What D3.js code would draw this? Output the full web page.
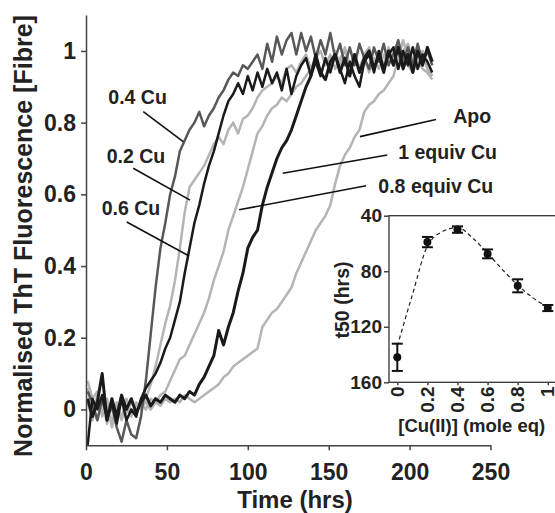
<!DOCTYPE html>
<html>
<head>
<meta charset="utf-8">
<script src="https://cdn.jsdelivr.net/npm/d3@7"></script>
<style>
  body { margin: 0; background: #fff; }
  svg { display: block; font-family: 'Liberation Sans', Arial, sans-serif; }
  .axis path, .axis line { stroke: #444; stroke-width: 1.5; }
  .axis text { fill: #222; font-weight: bold; }
</style>
</head>
<body>
<script>
const width = 555;
const height = 513;

// sampling times (hrs) shared by every trace
const hours = [1, 4, 7, 10, 13, 16, 19, 22, 25, 28, 31, 34, 37, 40, 43, 46, 49, 52, 55, 58,
  61, 64, 67, 70, 73, 76, 79, 82, 85, 88, 91, 94, 97, 100, 103, 106, 109, 112, 115, 118,
  121, 124, 127, 130, 133, 136, 139, 142, 145, 148, 151, 154, 157, 160, 163, 166, 169, 172,
  175, 178, 181, 184, 187, 190, 193, 196, 199, 202, 205, 208, 211, 214];

const apo = [0.06, 0.0, -0.03, 0.02, -0.04, 0.01, -0.02, 0.03, -0.01, 0.02, 0.0, 0.01, 0.02, 0.0,
  0.02, 0.01, 0.03, 0.02, 0.03, 0.02, 0.04, 0.03, 0.02, 0.03, 0.04, 0.05, 0.06, 0.07, 0.09, 0.1,
  0.12, 0.13, 0.14, 0.15, 0.16, 0.17, 0.23, 0.25, 0.27, 0.28, 0.3, 0.32, 0.34, 0.38, 0.41, 0.44,
  0.47, 0.5, 0.52, 0.54, 0.57, 0.63, 0.68, 0.71, 0.73, 0.76, 0.78, 0.83, 0.85, 0.86, 0.88, 0.89,
  0.91, 0.93, 0.98, 1.03, 0.98, 1.01, 0.97, 1.0, 0.95, 0.93];
const cu08 = [0.02, -0.03, 0.04, -0.01, 0.02, -0.05, 0.0, -0.02, 0.03, -0.01, 0.01, 0.02, 0.0, 0.03,
  0.02, 0.04, 0.05, 0.08, 0.11, 0.14, 0.15, 0.18, 0.21, 0.24, 0.27, 0.31, 0.36, 0.4, 0.44, 0.5,
  0.54, 0.58, 0.62, 0.67, 0.72, 0.77, 0.79, 0.82, 0.84, 0.85, 0.87, 0.86, 0.88, 0.9, 0.91, 0.93,
  0.95, 0.97, 0.93, 0.98, 0.95, 1.0, 0.96, 1.01, 0.96, 0.99, 0.95, 0.99, 1.01, 0.96, 1.0, 0.96,
  1.01, 0.97, 0.95, 1.0, 1.02, 0.97, 0.95, 0.99, 0.95, 0.93];
const cu02 = [0.08, 0.03, 0.05, -0.02, 0.03, -0.04, 0.02, -0.03, 0.01, -0.02, 0.02, 0.0, 0.03, 0.07,
  0.12, 0.18, 0.24, 0.29, 0.36, 0.45, 0.55, 0.62, 0.64, 0.66, 0.68, 0.71, 0.74, 0.76, 0.74, 0.78,
  0.8, 0.77, 0.81, 0.82, 0.84, 0.87, 0.89, 0.9, 0.91, 0.93, 0.91, 0.95, 0.96, 0.94, 0.97, 0.99,
  0.95, 0.98, 1.0, 0.96, 0.99, 0.95, 0.98, 1.0, 0.96, 0.99, 0.95, 0.98, 0.94, 0.98, 0.95, 0.99,
  0.96, 1.0, 0.95, 0.99, 0.96, 0.94, 0.98, 0.95, 0.94, 0.92];
const cu04 = [0.05, 0.02, -0.03, 0.03, -0.02, 0.01, -0.05, -0.09, -0.03, -0.07, -0.08, -0.02, 0.08,
  0.21, 0.34, 0.45, 0.52, 0.6, 0.65, 0.72, 0.75, 0.78, 0.8, 0.83, 0.79, 0.82, 0.84, 0.87, 0.89,
  0.92, 0.94, 0.93, 0.96, 0.95, 0.97, 0.99, 0.95, 1.02, 0.97, 1.04, 0.99, 1.03, 1.05, 0.99, 1.05,
  1.0, 1.04, 0.98, 1.03, 0.99, 1.05, 0.98, 1.02, 0.96, 1.01, 0.96, 1.02, 0.98, 0.95, 1.01, 0.97,
  1.02, 0.96, 0.99, 1.03, 0.97, 1.01, 0.96, 1.02, 0.97, 1.0, 0.96];
const cu06 = [-0.1, 0.03, 0.0, 0.04, -0.03, 0.02, -0.04, 0.03, -0.03, 0.0, -0.02, 0.03, 0.06, 0.08,
  0.1, 0.13, 0.17, 0.2, 0.25, 0.3, 0.38, 0.45, 0.52, 0.57, 0.63, 0.68, 0.72, 0.77, 0.82, 0.86,
  0.88, 0.91, 0.88, 0.93, 0.89, 0.94, 0.9, 0.95, 0.91, 0.94, 0.89, 0.95, 0.88, 0.93, 0.96, 0.98,
  0.93, 0.97, 0.93, 0.98, 0.94, 0.99, 0.95, 0.91, 0.97, 0.93, 0.9, 0.97, 0.99, 0.94, 1.0, 0.95,
  0.99, 1.01, 0.95, 1.0, 0.96, 1.01, 0.95, 0.99, 0.97, 0.94];
const cu10 = [0.03, -0.02, 0.02, 0.1, -0.03, 0.03, -0.02, 0.04, 0.0, 0.03, -0.01, 0.02, 0.04, 0.01,
  0.03, 0.02, 0.04, 0.03, 0.02, 0.04, 0.03, 0.05, 0.04, 0.07, 0.09, 0.12, 0.15, 0.22, 0.18, 0.23,
  0.27, 0.33, 0.38, 0.45, 0.48, 0.5, 0.57, 0.62, 0.66, 0.7, 0.73, 0.75, 0.78, 0.82, 0.86, 0.9,
  0.93, 0.99, 0.94, 0.92, 0.97, 0.99, 0.94, 0.98, 0.93, 0.99, 0.94, 0.98, 1.0, 0.95, 0.99, 0.94,
  1.0, 0.96, 1.01, 0.95, 0.99, 0.94, 1.0, 0.96, 1.01, 0.97];

const traces = [
  { name: 'Apo', values: apo, color: '#b4b4b4', width: 2.5 },
  { name: '0.8 equiv Cu', values: cu08, color: '#b4b4b4', width: 2.5 },
  { name: '0.2 Cu', values: cu02, color: '#b4b4b4', width: 2.5 },
  { name: '0.4 Cu', values: cu04, color: '#585858', width: 2.5 },
  { name: '0.6 Cu', values: cu06, color: '#1a1a1a', width: 2.5 },
  { name: '1 equiv Cu', values: cu10, color: '#1a1a1a', width: 3 },
];

// callout labels: text position and leader line, in data units (hrs, fluorescence)
const callouts = [
  { text: '0.4 Cu', at: [13.8, 0.852], from: [35.4, 0.831], to: [60.1, 0.747] },
  { text: '0.2 Cu', at: [12.8, 0.687], from: [29.2, 0.673], to: [64.3, 0.584] },
  { text: '0.6 Cu', at: [9.7, 0.543], from: [25.2, 0.523], to: [63.7, 0.428] },
  { text: 'Apo', at: [227, 0.798], from: [216.3, 0.809], to: [169.3, 0.761] },
  { text: '1 equiv Cu', at: [193, 0.698], from: [186.2, 0.71], to: [121.6, 0.659] },
  { text: '0.8 equiv Cu', at: [180.7, 0.605], from: [173.1, 0.624], to: [94.6, 0.557] },
];

const xTicks = [0, 50, 100, 150, 200, 250];
const yTicks = [0, 0.2, 0.4, 0.6, 0.8, 1];

// inset: t50 vs copper equivalents
const cuEq = [0, 0.2, 0.4, 0.6, 0.8, 1];
const t50 = [142, 59, 50, 67.5, 90.5, 106.5];
const t50Err = [9.8, 3.7, 2.3, 3.2, 4.7, 2.2];
const fitEq = [0, 0.1, 0.2, 0.3, 0.4, 0.5, 0.6, 0.7, 0.8, 0.9, 1];
const fitT50 = [134, 97, 62, 51.5, 48.5, 56, 67, 79, 90, 99, 106];
const insetXTicks = [0, 0.2, 0.4, 0.6, 0.8, 1];
const insetYTicks = [40, 80, 120, 160];

const svg = d3.select('body')
  .append('svg')
  .attr('width', width)
  .attr('height', height);

const x = d3.scaleLinear([0, 250], [86, 490.5]);
const y = d3.scaleLinear([-0.1, 1.1], [445.3, 15.1]);

svg.append('defs').append('clipPath')
  .attr('id', 'plot-clip')
  .append('rect')
  .attr('x', x(0))
  .attr('y', y(1.1))
  .attr('width', x(250) - x(0))
  .attr('height', y(-0.1) - y(1.1));

const line = d3.line()
  .x((d, i) => x(hours[i]))
  .y(d => y(d));

svg.append('g')
  .attr('clip-path', 'url(#plot-clip)')
  .selectAll('path')
  .data(traces)
  .enter()
  .append('path')
  .attr('d', d => line(d.values))
  .attr('fill', 'none')
  .attr('stroke', d => d.color)
  .attr('stroke-width', d => d.width)
  .attr('stroke-linejoin', 'round');

// axes
const xAxis = d3.axisBottom(x)
  .tickValues(xTicks)
  .tickFormat(d3.format('d'))
  .tickSizeInner(5)
  .tickSizeOuter(0)
  .tickPadding(13);

const yAxis = d3.axisLeft(y)
  .tickValues(yTicks)
  .tickFormat(d => (d === 0 || d === 1 ? String(d) : d.toFixed(1)))
  .tickSizeInner(5)
  .tickSizeOuter(0)
  .tickPadding(5);

svg.append('g')
  .attr('class', 'axis')
  .attr('transform', `translate(0, ${y(-0.1)})`)
  .call(xAxis)
  .selectAll('text')
  .style('font-size', '23px');

svg.append('g')
  .attr('class', 'axis')
  .attr('transform', `translate(${x(0)}, 0)`)
  .call(yAxis)
  .selectAll('text')
  .style('font-size', '23px');

svg.append('text')
  .attr('x', 295)
  .attr('y', 508)
  .attr('text-anchor', 'middle')
  .style('font-size', '24px')
  .style('font-weight', 'bold')
  .attr('fill', '#222')
  .text('Time (hrs)');

svg.append('text')
  .attr('transform', 'translate(31.5, 236) rotate(-90)')
  .attr('text-anchor', 'middle')
  .style('font-size', '25px')
  .style('font-weight', 'bold')
  .attr('fill', '#222')
  .text('Normalised ThT Fluorescence [Fibre]');

// callouts
const notes = svg.append('g');
notes.selectAll('line')
  .data(callouts)
  .enter()
  .append('line')
  .attr('x1', d => x(d.from[0]))
  .attr('y1', d => y(d.from[1]))
  .attr('x2', d => x(d.to[0]))
  .attr('y2', d => y(d.to[1]))
  .attr('stroke', '#111')
  .attr('stroke-width', 1.6);
notes.selectAll('text')
  .data(callouts)
  .enter()
  .append('text')
  .attr('x', d => x(d.at[0]))
  .attr('y', d => y(d.at[1]))
  .style('font-size', '19.5px')
  .style('font-weight', 'bold')
  .attr('fill', '#222')
  .text(d => d.text);

// inset
const xi = d3.scaleLinear([0, 1], [397.3, 547.8]);
const yi = d3.scaleLinear([40, 160], [215.7, 382.3]);
const insetLeft = 389;

const inset = svg.append('g');

inset.append('rect')
  .attr('x', insetLeft)
  .attr('y', yi(40))
  .attr('width', width - insetLeft + 5)
  .attr('height', yi(160) - yi(40))
  .attr('fill', '#fff')
  .attr('stroke', '#333')
  .attr('stroke-width', 1.3);

inset.append('g')
  .attr('class', 'axis')
  .attr('transform', `translate(${insetLeft}, 0)`)
  .call(d3.axisLeft(yi).tickValues(insetYTicks).tickSizeInner(5).tickSizeOuter(0).tickPadding(2))
  .call(g => g.select('.domain').remove())
  .selectAll('text')
  .style('font-size', '19px');

inset.append('g')
  .attr('class', 'axis')
  .attr('transform', `translate(0, ${yi(160)})`)
  .call(d3.axisBottom(xi).tickValues(insetXTicks).tickFormat(d => String(d)).tickSizeInner(3).tickSizeOuter(0))
  .call(g => g.select('.domain').remove())
  .selectAll('text')
  .attr('transform', 'rotate(-90)')
  .attr('text-anchor', 'end')
  .attr('x', -4)
  .attr('y', 0)
  .attr('dy', '0.3em')
  .style('font-size', '19px');

inset.append('path')
  .attr('d', d3.line().x((d, i) => xi(fitEq[i])).y(d => yi(d)).curve(d3.curveMonotoneX)(fitT50))
  .attr('fill', 'none')
  .attr('stroke', '#222')
  .attr('stroke-width', 1.2)
  .attr('stroke-dasharray', '4,3');

const bars = inset.selectAll('.err')
  .data(cuEq)
  .enter()
  .append('g')
  .attr('class', 'err');
bars.append('line')
  .attr('x1', d => xi(d))
  .attr('x2', d => xi(d))
  .attr('y1', (d, i) => yi(t50[i] - t50Err[i]))
  .attr('y2', (d, i) => yi(t50[i] + t50Err[i]))
  .attr('stroke', '#111')
  .attr('stroke-width', 2);
bars.selectAll('.cap')
  .data((d, i) => [[d, t50[i] - t50Err[i]], [d, t50[i] + t50Err[i]]])
  .enter()
  .append('line')
  .attr('x1', d => xi(d[0]) - 5.5)
  .attr('x2', d => xi(d[0]) + 5.5)
  .attr('y1', d => yi(d[1]))
  .attr('y2', d => yi(d[1]))
  .attr('stroke', '#111')
  .attr('stroke-width', 2);
bars.append('circle')
  .attr('cx', d => xi(d))
  .attr('cy', (d, i) => yi(t50[i]))
  .attr('r', 4)
  .attr('fill', '#111');

inset.append('text')
  .attr('transform', 'translate(349, 300) rotate(-90)')
  .attr('text-anchor', 'middle')
  .style('font-size', '19.5px')
  .style('font-weight', 'bold')
  .attr('fill', '#222')
  .text('t50 (hrs)');

inset.append('text')
  .attr('x', 471.7)
  .attr('y', 431.5)
  .attr('text-anchor', 'middle')
  .style('font-size', '18.5px')
  .style('font-weight', 'bold')
  .attr('fill', '#222')
  .text('[Cu(II)] (mole eq)');
</script>
</body>
</html>
